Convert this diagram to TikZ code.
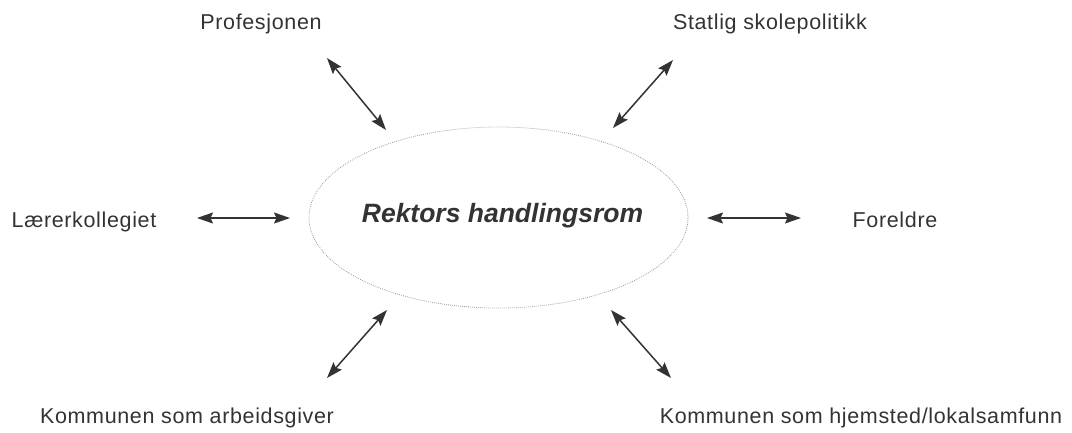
\documentclass[tikz,border=0pt]{standalone}
\usepackage{fontspec}
\setmainfont{Liberation Sans}
\newfontfamily\labfont[LetterSpace=3]{Liberation Sans}
\usetikzlibrary{arrows.meta}
\definecolor{ink}{HTML}{333333}
\begin{document}
\begin{tikzpicture}[x=1pt,y=-1pt,
  lab/.style={font=\labfont\fontsize{21.5}{25}\selectfont, text=ink, anchor=base, inner sep=0pt},
  tip/.style={Stealth[length=16pt,width=11pt,inset=2.5pt]},
  link/.style={draw=ink, line width=1.5pt, {Stealth[length=16pt,width=11pt,inset=2.5pt]}-{Stealth[length=16pt,width=11pt,inset=2.5pt]}}]
\useasboundingbox (0,0) rectangle (1072,432);

% central field
\draw[draw=gray!80, line width=0.8pt, dash pattern=on 0.8pt off 1.2pt]
  (498.5,217.5) ellipse [x radius=189.5pt, y radius=90.5pt];
\node[font=\fontsize{26.5}{30}\selectfont\bfseries\itshape, text=ink, anchor=base, inner sep=0pt]
  (centre) at (502.5,222) {Rektors handlingsrom};

% surrounding actors
\node[lab] (prof) at (261,29) {Profesjonen};
\node[lab] (stat) at (770,29) {Statlig skolepolitikk};
\node[lab] (laer) at (84,227) {Lærerkollegiet};
\node[lab] (fore) at (895,227) {Foreldre};
\node[lab] (arb)  at (187,423) {Kommunen som arbeidsgiver};
\node[lab] (hjem) at (861,423) {Kommunen som hjemsted/lokalsamfunn};

% arrow end points
\coordinate (p1) at (327,58);  \coordinate (p2) at (386,130);
\coordinate (s1) at (673,60);  \coordinate (s2) at (613,128);
\coordinate (l1) at (197,218); \coordinate (l2) at (290,218);
\coordinate (f1) at (707,218); \coordinate (f2) at (801,218);
\coordinate (a1) at (387,310); \coordinate (a2) at (327,378);
\coordinate (h1) at (611,310); \coordinate (h2) at (671,378);

\draw[link] (p1) -- (p2);
\draw[link] (s1) -- (s2);
\draw[link] (l1) -- (l2);
\draw[link] (f1) -- (f2);
\draw[link] (a1) -- (a2);
\draw[link] (h1) -- (h2);
\end{tikzpicture}
\end{document}
